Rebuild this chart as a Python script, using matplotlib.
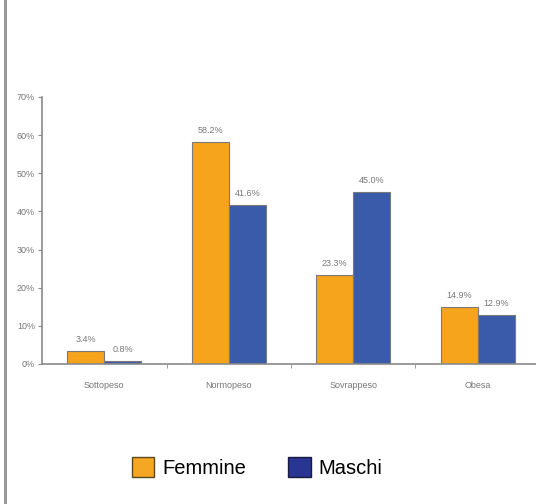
import matplotlib.pyplot as plt
import numpy as np
from matplotlib.patches import Patch
from matplotlib.lines import Line2D

plt.rcParams['font.family'] = ['Liberation Sans', 'DejaVu Sans']

# data
categories = ['Sottopeso', 'Normopeso', 'Sovrappeso', 'Obesa']
femmine = [3.4, 58.2, 23.3, 14.9]
maschi = [0.8, 41.6, 45.0, 12.9]
yticks = [0, 10, 20, 30, 40, 50, 60, 70]
series_names = ['Femmine', 'Maschi']

orange = '#F5A41C'
blue = '#3A5BA9'
grey = '#8a8a8a'

fig = plt.figure(figsize=(5.36, 5.04), dpi=100)
ax = fig.add_axes([0.0784, 0.2778, 0.929, 0.5298])

x = np.arange(len(categories))
w = 0.297
b1 = ax.bar(x - w / 2, femmine, w, color=orange, edgecolor='#7a7a7a', linewidth=0.8)
b2 = ax.bar(x + w / 2, maschi, w, color=blue, edgecolor='#7a7a7a', linewidth=0.8)

for bars, vals in [(b1, femmine), (b2, maschi)]:
    for r, v in zip(bars, vals):
        ax.annotate('%.1f%%' % v, (r.get_x() + r.get_width() / 2, r.get_height()),
                    xytext=(0, 5), textcoords='offset points', ha='center',
                    va='bottom', fontsize=6.5, color='#777777')

ax.set_xlim(-0.5, len(categories) - 0.5)
ax.set_ylim(0, 70)
ax.set_yticks(yticks)
ax.set_yticklabels(['%d%%' % t for t in yticks])
ax.set_xticks(x)
ax.set_xticklabels(categories)
ax.set_xticks(x[:-1] + 0.5, minor=True)

for s in ['top', 'right']:
    ax.spines[s].set_visible(False)
for s in ['left', 'bottom']:
    ax.spines[s].set_color(grey)
    ax.spines[s].set_linewidth(1.2)
ax.tick_params(axis='y', length=3, color=grey, labelsize=6.5, labelcolor='#777777', pad=2)
ax.tick_params(axis='x', which='major', length=0, labelsize=6.5, labelcolor='#777777', pad=12)
ax.tick_params(axis='x', which='minor', length=3, color=grey)

# legend
handles = [Patch(facecolor='#F5A623', edgecolor='#5a4a20', linewidth=1),
           Patch(facecolor='#283593', edgecolor='#1a1a40', linewidth=1)]
fig.legend(handles, series_names, loc='center', bbox_to_anchor=(0.48, 0.072),
           ncol=2, frameon=False, fontsize=14.5, handlelength=1.1, handleheight=1.1,
           handletextpad=0.4, columnspacing=2.1)

# left border line of the page
fig.add_artist(Line2D([0.0093, 0.0093], [0, 1], transform=fig.transFigure,
                      color='#9a9a9a', linewidth=2.2))

fig.savefig('out.png', dpi=100)
